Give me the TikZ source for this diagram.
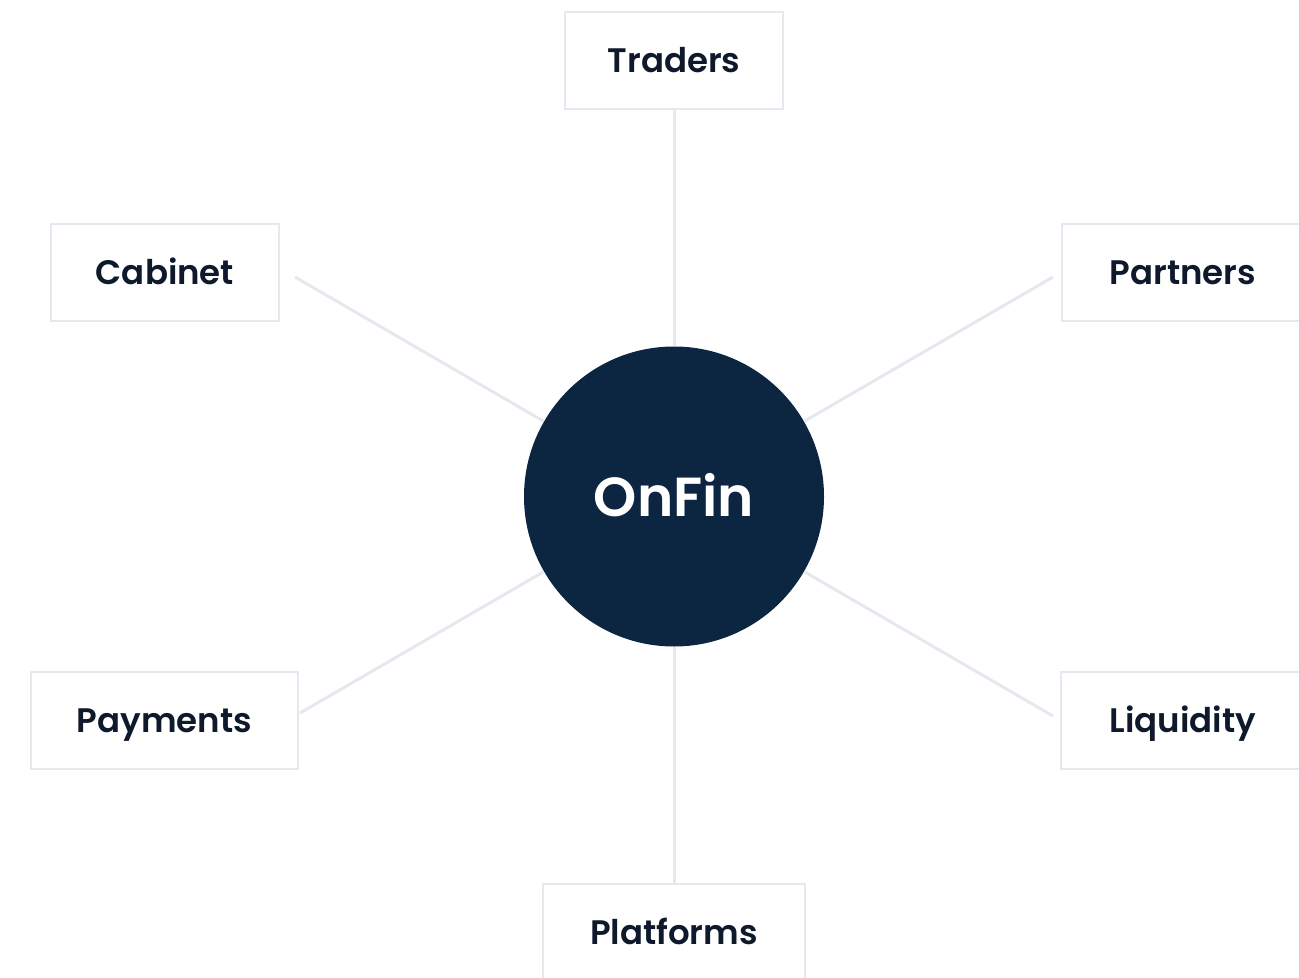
\documentclass[tikz,border=0pt]{standalone}
\usepackage{fontspec}
\setmainfont{Poppins}[BoldFont={Poppins SemiBold}]
\definecolor{linec}{HTML}{E4E9F0}
\definecolor{navy}{HTML}{0C2641}
\definecolor{txt}{HTML}{0E1A2B}
\begin{document}
\begin{tikzpicture}[x=0.5pt,y=-0.5pt,
  box/.style={draw=linec,line width=1pt,fill=white,text=txt,font=\fontsize{17}{19}\selectfont\bfseries,inner sep=0pt,text height=12pt,text depth=0pt},
  conn/.style={draw=linec,line width=1.5pt}]
\useasboundingbox (0,0) rectangle (1299,978);
\clip (0,0) rectangle (1299,978);
\node[box,minimum width=109pt,minimum height=48.5pt] (traders) at (674,60.5) {Traders};
\node[box,minimum width=114pt,minimum height=48.5pt] (cabinet) at (165,272.5) {Cabinet};
\node[box,minimum width=121pt,minimum height=48.5pt] (partners) at (1183,272.5) {Partners};
\node[box,minimum width=133.5pt,minimum height=48.5pt] (payments) at (164.5,720.5) {Payments};
\node[box,minimum width=122pt,minimum height=48.5pt] (liquidity) at (1183,720.5) {Liquidity};
\node[box,minimum width=131pt,minimum height=48.5pt] (platforms) at (674,932.5) {Platforms};
\node[circle,fill=navy,minimum size=150pt,inner sep=0pt,text=white,font=\fontsize{27.5}{30}\selectfont\bfseries,text height=19.5pt,text depth=0pt] (onfin) at (674,496.5) {OnFin};
\coordinate (c1) at (295,277);
\coordinate (c2) at (1053,277);
\coordinate (p1) at (300,713);
\coordinate (l1) at (1053,716);
\draw[conn] (traders.south) -- (onfin.north);
\draw[conn] (platforms.north) -- (onfin.south);
\draw[conn] (c1) -- (onfin.150);
\draw[conn] (c2) -- (onfin.30);
\draw[conn] (p1) -- (onfin.210);
\draw[conn] (l1) -- (onfin.330);
\end{tikzpicture}
\end{document}
